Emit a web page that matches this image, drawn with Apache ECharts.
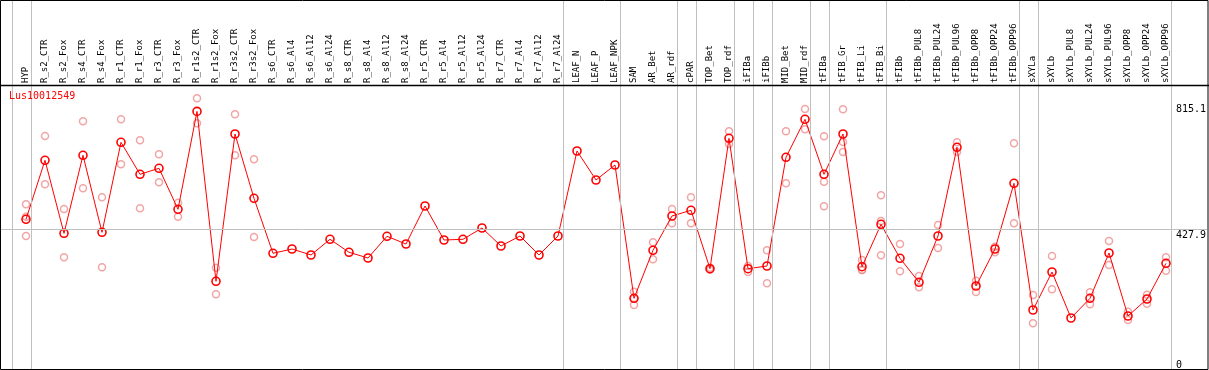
<!DOCTYPE html>
<html>
<head>
<meta charset="utf-8">
<script src="https://cdn.jsdelivr.net/npm/echarts@6/dist/echarts.min.js"></script>
<style>
html,body{margin:0;padding:0;background:#fff;}
#chart{width:1209px;height:370px;}
</style>
</head>
<body>
<div id="chart"></div>
<script>
const geneId = 'Lus10012549';
const categories = ['HYP','R_s2_CTR','R_s2_Fox','R_s4_CTR','R_s4_Fox','R_r1_CTR','R_r1_Fox','R_r3_CTR','R_r3_Fox',
  'R_r1s2_CTR','R_r1s2_Fox','R_r3s2_CTR','R_r3s2_Fox','R_s6_CTR','R_s6_Al4','R_s6_Al12','R_s6_Al24',
  'R_s8_CTR','R_s8_Al4','R_s8_Al12','R_s8_Al24','R_r5_CTR','R_r5_Al4','R_r5_Al12','R_r5_Al24',
  'R_r7_CTR','R_r7_Al4','R_r7_Al12','R_r7_Al24','LEAF_N','LEAF_P','LEAF_NPK','SAM','AR_Bet','AR_rdf',
  'cPAR','TOP_Bet','TOP_rdf','iFIBa','iFIBb','MID_Bet','MID_rdf','tFIBa','tFIB_Gr','tFIB_Li','tFIB_Bi',
  'tFIBb','tFIBb_PUL8','tFIBb_PUL24','tFIBb_PUL96','tFIBb_OPP8','tFIBb_OPP24','tFIBb_OPP96',
  'sXYLa','sXYLb','sXYLb_PUL8','sXYLb_PUL24','sXYLb_PUL96','sXYLb_OPP8','sXYLb_OPP24','sXYLb_OPP96'];
const meanValues = [459.9,654.1,413.8,670.6,417.1,713.4,608.0,627.8,492.8,815.1,255.8,740.7,529.0,
  348.0,362.1,342.4,394.1,351.3,332.5,403.9,378.6,503.7,391.7,394.1,431.3,372.0,404.9,342.4,404.9,
  684.7,589.3,638.6,199.8,357.8,470.8,489.5,297.3,726.5,297.3,306.2,664.0,789.1,608.0,740.7,303.9,443.4,
  331.5,252.5,404.9,696.9,240.3,362.1,578.4,161.3,286.4,135.0,199.8,349.0,141.6,197.5,315.0];
const replicateValues = [
  [509.3,468.5,404.9],[734.1,575.1],[493.8,334.8],[782.5,561.9],[532.3,301.9],[789.1,640.9],[720.0,496.1],
  [673.9,581.7],[514.5,468.5],[858.2,775.9],[300.6,213.0],[805.5,670.6],[657.4,401.6],
  [],[],[],[],[],[],[],[],[],[],[],[],[],[],[],[],[],[],[],
  [221.5,199.8,177.8],[384.2,328.2],[493.8,446.7],[532.3,446.7],[300.6,294.0],[749.6,707.8],[306.2,286.4],
  [357.8,249.2],[749.6,578.4],[823.0,756.2],[733.1,583.7,502.7],[822.0,714.4,681.4],[325.9,293.0,293.0],
  [538.9,454.3,341.4],[378.6,288.7],[273.2,236.0],[441.1,365.4],[713.4,681.4],[257.8,220.6],[369.7,351.3],
  [710.1,446.7],[210.7,117.5],[339.1,229.5],[],[219.6,180.1],[388.5,309.4],[155.7,128.4],[211.7,182.0],[334.8,290.7]];
const groupEnds = [-1,0,28,31,34,35,37,38,39,41,42,45,52,53,60];
const yTicks = [0,427.9,815.1];

// layout (pixels)
const W = 1209, H = 370;
const firstX = 26, step = 19, gLeft = 1, gRight = 1207;
const y0px = 359, yMaxPx = 111.4, gTop = 0, gBottom = 369;
const pxPerUnit = (y0px - yMaxPx) / yTicks[2];
const xMin = -(firstX - gLeft) / step, xMax = (gRight - firstX) / step;
const yMin = -(gBottom - y0px) / pxPerUnit, yMax = (y0px - gTop) / pxPerUnit;

const meanData = meanValues.map((v, i) => [i, v]);
const repData = [];
replicateValues.forEach((arr, i) => arr.forEach(v => repData.push([i, v])));

const font = 'DejaVu Sans Mono';
const clear = 'rgba(0,0,0,0)';
const chart = echarts.init(document.getElementById('chart'), null, {renderer: 'canvas'});
chart.setOption({
  animation: false,
  backgroundColor: '#fff',
  title: {text: geneId, left: 9, top: 91, padding: 0,
    textStyle: {color: '#ff0000', fontSize: 10, fontFamily: font, fontWeight: 'normal'}},
  grid: [
    {left: gLeft, right: W - gRight, top: gTop, bottom: H - gBottom},
    {left: firstX - step / 2, width: step * categories.length, top: 85, bottom: H - gBottom}
  ],
  xAxis: [
    {type: 'value', gridIndex: 0, min: xMin, max: xMax, show: false},
    {type: 'category', gridIndex: 1, data: categories, position: 'top', boundaryGap: true,
      axisLine: {show: false}, axisTick: {show: false}, splitLine: {show: false},
      axisLabel: {interval: 0, rotate: 90, margin: 2, fontSize: 9, fontFamily: font, color: '#000'}}
  ],
  yAxis: [
    {type: 'value', gridIndex: 0, min: yMin, max: yMax, show: false},
    {type: 'value', gridIndex: 1, show: false}
  ],
  series: [
    {type: 'scatter', xAxisIndex: 0, yAxisIndex: 0, data: repData, symbol: 'circle', symbolSize: 7,
      itemStyle: {color: clear, borderColor: '#ee8f8f', borderWidth: 1.5}, z: 2,
      markLine: {silent: true, symbol: 'none', animation: false,
        lineStyle: {color: '#c0c0c0', width: 1, type: 'solid'},
        label: {show: false},
        data: groupEnds.map(i => ({xAxis: i + 0.25}))}},
    {type: 'line', xAxisIndex: 0, yAxisIndex: 0, data: meanData, symbol: 'circle', symbolSize: 8,
      lineStyle: {color: '#ff0000', width: 1}, itemStyle: {color: clear, borderColor: '#ff0000', borderWidth: 1.6},
      z: 4,
      markLine: {silent: true, symbol: 'none', animation: false,
        label: {show: true, position: 'insideEndBottom', distance: [1, 1], color: '#000', fontSize: 10, fontFamily: font,
          formatter: p => String(p.value)},
        data: [
          {yAxis: yTicks[2], lineStyle: {color: clear, width: 1}, label: {position: 'insideEndTop', distance: [1, -3]}},
          {yAxis: yTicks[1], lineStyle: {color: '#c0c0c0', width: 1, type: 'solid'}},
          {yAxis: yTicks[0], lineStyle: {color: clear, width: 1}, label: {padding: [0, 24, 0, 0]}}
        ]}}
  ],
  graphic: [
    {type: 'rect', shape: {x: 0.5, y: 0.5, width: W - 1.5, height: H - 1}, style: {fill: null, stroke: '#000', lineWidth: 1}, z: 100, silent: true},
    {type: 'line', shape: {x1: 0, y1: 85.5, x2: W, y2: 85.5}, style: {stroke: '#000', lineWidth: 1.5}, z: 100, silent: true}
  ]
});
</script>
</body>
</html>
